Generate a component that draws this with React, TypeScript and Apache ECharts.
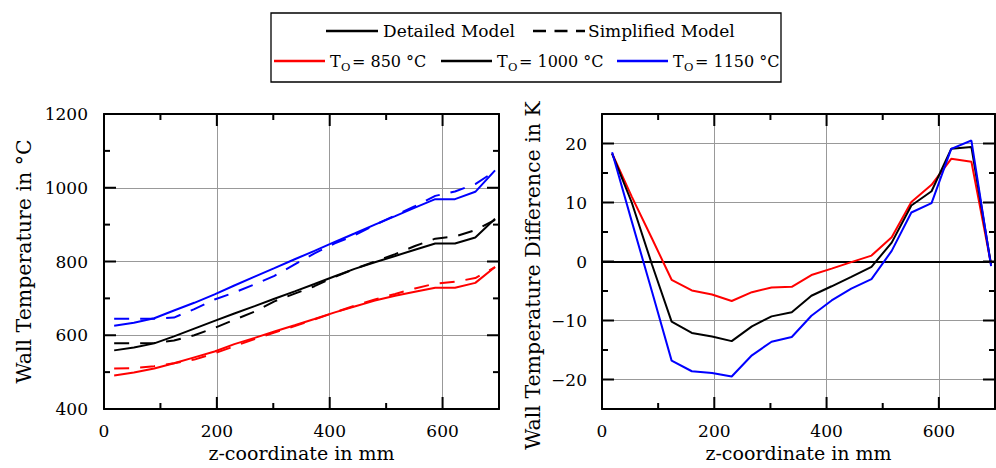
import React, { useEffect, useRef } from 'react';
import * as echarts from 'echarts';

const FONT = '"DejaVu Serif", serif';

// z-coordinate in mm (shared by all curves)
const Z = [18, 53, 89, 124, 160, 196, 231, 267, 302, 338, 373, 409, 444, 480, 516, 551, 587, 622, 658, 693];

// Wall temperature in °C — detailed (solid) and simplified (dashed) models
const redDetailed = [491, 499, 510, 524, 540, 556, 576, 593, 610, 627, 644, 662, 678, 694, 707, 718, 729, 729, 742, 785];
const redSimplified = [510, 511, 516, 524, 534, 551, 570, 590, 607, 625, 643, 662, 680, 697, 712, 727, 740, 745, 755, 785];
const blackDetailed = [559, 567, 578, 597, 618, 639, 659, 679, 699, 719, 739, 760, 780, 798, 815, 832, 849, 849, 865, 916];
const blackSimplified = [578, 578, 579, 586, 600, 620, 642, 664, 692, 713, 733, 758, 780, 800, 820, 842, 862, 868, 885, 913];
const blueDetailed = [626, 634, 646, 667, 688, 711, 735, 759, 782, 806, 829, 853, 876, 900, 923, 946, 969, 969, 989, 1047];
const blueSimplified = [645, 645, 645, 648, 671, 697, 716, 738, 761, 792, 822, 849, 871, 899, 925, 950, 978, 990, 1010, 1045];

// Wall temperature difference in K
const redDiff = [18.3, 11.0, 3.9, -3.1, -4.9, -5.6, -6.7, -5.2, -4.4, -4.3, -2.3, -1.2, -0.1, 1.0, 4.1, 10.1, 13.0, 17.4, 16.9, -0.5];
const blackDiff = [18.3, 10.0, -0.5, -10.2, -12.1, -12.7, -13.5, -11.0, -9.3, -8.6, -5.8, -4.2, -2.6, -0.9, 3.2, 9.5, 11.9, 19.1, 19.4, -0.5];
const blueDiff = [18.5, 6.8, -5.1, -16.8, -18.6, -18.9, -19.5, -15.9, -13.6, -12.8, -9.2, -6.6, -4.6, -3.0, 1.8, 8.3, 9.9, 19.1, 20.5, -0.8];

// frame tick marks (axis values)
const zMajorTicks = [200, 400, 600];
const zMinorTicks = [100, 300, 500];
const tempMajorTicks = [600, 800, 1000];
const tempMinorTicks = [500, 700, 900, 1100];
const diffMajorTicks = [-20, -10, 0, 10, 20];
const diffMinorTicks = [-15, -5, 5, 15];

const legendTemps = ['850', '1000', '1150'];

const RED = '#ff0000';
const BLACK = '#000000';
const BLUE = '#0000ff';

const Z_MIN = 0, Z_MAX = 700;
const T_MIN = 400, T_MAX = 1200;
const D_MIN = -25, D_MAX = 25;

const pair = (vals: number[]) => vals.map((v, i) => [Z[i], v]);

const axisLine = () => ({ show: true, onZero: false, lineStyle: { color: '#000', width: 2 } });
const noTick = () => ({ show: false });
const gridLine = () => ({ show: true, lineStyle: { color: '#999', width: 1 } });
const labelStyle = () => ({ color: '#000', fontFamily: FONT, fontSize: 17 });

const X_SCALE = { type: 'value', min: Z_MIN, max: Z_MAX, interval: 200 };
const T_SCALE = { type: 'value', min: T_MIN, max: T_MAX, interval: 200 };
const D_SCALE = { type: 'value', min: D_MIN, max: D_MAX, minInterval: 10, maxInterval: 10 };

function mirrorAxis(scale: any, gridIndex: number, position: string) {
  return {
    ...scale, gridIndex, position,
    axisLine: axisLine(), axisTick: noTick(), minorTick: noTick(),
    axisLabel: { show: false }, splitLine: { show: false },
  };
}

function bottomAxis(gridIndex: number) {
  return {
    ...X_SCALE, gridIndex, position: 'bottom',
    axisLine: axisLine(), axisTick: noTick(), minorTick: noTick(), splitLine: gridLine(),
    axisLabel: { ...labelStyle(), margin: 13, formatter: (v: number) => (v % 200 === 0 ? String(v) : '') },
    name: 'z-coordinate in mm', nameLocation: 'middle', nameGap: 27,
    nameTextStyle: { color: '#000', fontFamily: FONT, fontSize: 19 },
  };
}

function lineSeries(name: string, vals: number[], color: string, dashed: boolean, axis: number) {
  return {
    type: 'line', name, xAxisIndex: axis, yAxisIndex: axis, data: pair(vals),
    symbol: 'none', silent: true,
    lineStyle: { color, width: 2, type: dashed ? [15, 11] : 'solid' }, z: 3,
  };
}

function legendGraphics() {
  const els: any[] = [];
  els.push({ type: 'rect', shape: { x: 271, y: 13, width: 510, height: 69 }, style: { fill: 'none', stroke: '#000', lineWidth: 1.3 }, z: 10 });
  const txt = (x: number, y: number, text: string, size: number) => ({
    type: 'text', x, y, z: 10,
    style: { text, font: `${size}px ${FONT}`, fill: '#000', align: 'left', verticalAlign: 'middle' },
  });
  const ln = (x1: number, x2: number, y: number, color: string, dash?: number[]) => ({
    type: 'line', z: 10, shape: { x1, y1: y, x2, y2: y }, style: { stroke: color, lineWidth: 2.5, lineDash: dash },
  });
  els.push(ln(326, 378, 31, BLACK));
  els.push(txt(383, 31, 'Detailed Model', 17));
  els.push(ln(533, 585, 31, BLACK, [13, 8.5]));
  els.push(txt(588, 31, 'Simplified Model', 17));
  const colors = [RED, BLACK, BLUE];
  const lineX = [274, 441, 617];
  legendTemps.forEach((t, i) => {
    const x0 = lineX[i];
    els.push(ln(x0, x0 + 51, 61, colors[i]));
    const tx = x0 + 56;
    els.push(txt(tx, 61, 'T', 16));
    els.push(txt(tx + 11, 67, 'O', 11.5));
    els.push(txt(tx + 22, 61, `= ${t} °C`, 16));
  });
  return els;
}

// inward frame ticks on all four sides, placed through the chart's own axis scales
function tickGraphics(chart: any) {
  const els: any[] = [];
  const style = { stroke: '#000', lineWidth: 2 };
  const seg = (x1: number, y1: number, x2: number, y2: number) => ({ type: 'line', z: 9, silent: true, shape: { x1, y1, x2, y2 }, style });
  const build = (ai: number, yMin: number, yMax: number, yMajor: number[], yMinor: number[]) => {
    const px = (v: number) => chart.convertToPixel({ xAxisIndex: ai }, v) as number;
    const py = (v: number) => chart.convertToPixel({ yAxisIndex: ai }, v) as number;
    const yb = py(yMin), yt = py(yMax), xl = px(Z_MIN), xr = px(Z_MAX);
    const addX = (vals: number[], len: number) => vals.forEach((v) => {
      const x = px(v);
      els.push(seg(x, yb, x, yb - len));
      els.push(seg(x, yt, x, yt + len));
    });
    const addY = (vals: number[], len: number) => vals.forEach((v) => {
      const y = py(v);
      els.push(seg(xl, y, xl + len, y));
      els.push(seg(xr, y, xr - len, y));
    });
    addX(zMajorTicks, 12);
    addX(zMinorTicks, 6);
    addY(yMajor, 12);
    addY(yMinor, 6);
  };
  build(0, T_MIN, T_MAX, tempMajorTicks, tempMinorTicks);
  build(2, D_MIN, D_MAX, diffMajorTicks, diffMinorTicks);
  return els;
}

const option: any = {
  animation: false,
  backgroundColor: '#fff',
  grid: [
    { left: 104, top: 114, width: 395, height: 295, outerBoundsMode: 'none', containLabel: false },
    { left: 602, top: 114, width: 393, height: 295, outerBoundsMode: 'none', containLabel: false },
  ],
  xAxis: [
    bottomAxis(0),
    mirrorAxis(X_SCALE, 0, 'top'),
    bottomAxis(1),
    mirrorAxis(X_SCALE, 1, 'top'),
  ],
  yAxis: [
    {
      ...T_SCALE, gridIndex: 0, position: 'left',
      axisLine: axisLine(), axisTick: noTick(), minorTick: noTick(), splitLine: gridLine(),
      axisLabel: { ...labelStyle(), margin: 16, formatter: (v: number) => String(v) },
      name: 'Wall Temperature in °C', nameLocation: 'middle', nameRotate: 90, nameGap: 70,
      nameTextStyle: { color: '#000', fontFamily: FONT, fontSize: 20.5 },
    },
    mirrorAxis(T_SCALE, 0, 'right'),
    {
      ...D_SCALE, gridIndex: 1, position: 'left',
      axisLine: axisLine(), axisTick: noTick(), minorTick: noTick(), splitLine: gridLine(),
      axisLabel: {
        ...labelStyle(), margin: 15,
        formatter: (v: number) => (v % 10 === 0 ? (v < 0 ? '\u2212' + String(-v) : String(v)) : ''),
      },
      name: 'Wall Temperature Difference in K', nameLocation: 'middle', nameRotate: 90, nameGap: 59,
      nameTextStyle: { color: '#000', fontFamily: FONT, fontSize: 20.5, padding: [0, 28, 0, 0] },
    },
    mirrorAxis(D_SCALE, 1, 'right'),
  ],
  series: [
    lineSeries('T850 detailed', redDetailed, RED, false, 0),
    lineSeries('T850 simplified', redSimplified, RED, true, 0),
    lineSeries('T1000 detailed', blackDetailed, BLACK, false, 0),
    lineSeries('T1000 simplified', blackSimplified, BLACK, true, 0),
    lineSeries('T1150 detailed', blueDetailed, BLUE, false, 0),
    lineSeries('T1150 simplified', blueSimplified, BLUE, true, 0),
    lineSeries('T850 difference', redDiff, RED, false, 2),
    {
      ...lineSeries('T1000 difference', blackDiff, BLACK, false, 2),
      markLine: {
        silent: true, symbol: 'none', label: { show: false },
        lineStyle: { color: '#000', width: 2, type: 'solid' }, data: [{ yAxis: 0 }], z: 2,
      },
    },
    lineSeries('T1150 difference', blueDiff, BLUE, false, 2),
  ],
  graphic: legendGraphics(),
};

export default function App() {
  const ref = useRef<HTMLDivElement>(null);
  useEffect(() => {
    const chart = echarts.init(ref.current!, null, { renderer: 'svg' });
    chart.setOption(option);
    chart.setOption({ graphic: [...legendGraphics(), ...tickGraphics(chart)] });
    return () => chart.dispose();
  }, []);
  return <div ref={ref} style={{ position: 'absolute', left: 0, top: 0, width: 996, height: 468, background: '#fff' }} />;
}
